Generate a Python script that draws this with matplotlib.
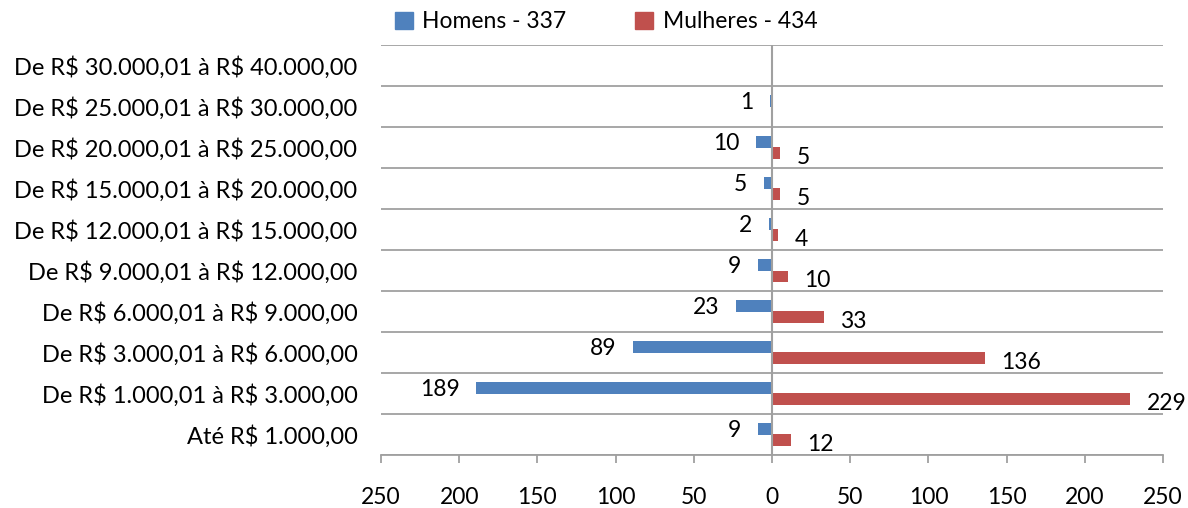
import matplotlib
matplotlib.use("Agg")
import matplotlib.pyplot as plt
from matplotlib.ticker import FuncFormatter
from matplotlib.patches import Patch
import numpy as np

plt.rcParams['font.family'] = ['Lato', 'DejaVu Sans']

categories = [
    "Até R$ 1.000,00",
    "De R$ 1.000,01 à R$ 3.000,00",
    "De R$ 3.000,01 à R$ 6.000,00",
    "De R$ 6.000,01 à R$ 9.000,00",
    "De R$ 9.000,01 à R$ 12.000,00",
    "De R$ 12.000,01 à R$ 15.000,00",
    "De R$ 15.000,01 à R$ 20.000,00",
    "De R$ 20.000,01 à R$ 25.000,00",
    "De R$ 25.000,01 à R$ 30.000,00",
    "De R$ 30.000,01 à R$ 40.000,00",
]
homens = [9, 189, 89, 23, 9, 2, 5, 10, 1, 0]
mulheres = [12, 229, 136, 33, 10, 4, 5, 5, 0, 0]
legend_labels = ["Homens - 337", "Mulheres - 434"]
xticks = [-250, -200, -150, -100, -50, 0, 50, 100, 150, 200, 250]

blue = '#4F81BD'
red = '#C0504D'
grid_c = '#A0A0A0'
fs = 16.5

fig = plt.figure(figsize=(11.88, 5.08), dpi=100)
ax = fig.add_axes([381/1188, 1-455/508, (1163-381)/1188, (455-45)/508])

y = np.arange(len(categories))
h = 0.28
ax.barh(y + h/2, [-v for v in homens], height=h, color=blue, zorder=3)
ax.barh(y - h/2, mulheres, height=h, color=red, zorder=3)

ax.set_xlim(-250, 250)
ax.set_ylim(-0.5, len(categories) - 0.5)

for i, v in enumerate(homens):
    if v:
        ax.annotate(str(v), (-v, i + h/2), xytext=(-12, -1), textcoords='offset points',
                    ha='right', va='center', fontsize=fs, color='#000000')
for i, v in enumerate(mulheres):
    if v:
        ax.annotate(str(v), (v, i - h/2), xytext=(12, -3), textcoords='offset points',
                    ha='left', va='center', fontsize=fs, color='#000000')

for b in np.arange(-0.5, len(categories), 1.0):
    ax.axhline(b, color=grid_c, lw=1.3, zorder=1)
ax.axvline(0, color=grid_c, lw=1.5, zorder=4)

for s in ['top', 'right', 'left']:
    ax.spines[s].set_visible(False)
ax.spines['bottom'].set_color(grid_c)
ax.spines['bottom'].set_linewidth(1.3)

ax.set_xticks(xticks)
ax.xaxis.set_major_formatter(FuncFormatter(lambda v, p: f"{abs(int(v))}"))
ax.tick_params(axis='x', length=6, width=1.3, color=grid_c, labelsize=fs, pad=17)
ax.set_yticks(y)
ax.set_yticklabels(categories, fontsize=17)
for t in ax.get_yticklabels():
    t.set_parse_math(False)
ax.tick_params(axis='y', length=0, pad=17)

handles = [Patch(color=blue), Patch(color=red)]
leg = fig.legend(handles, legend_labels, loc='center', bbox_to_anchor=(606/1188, 1-22/508),
                 ncol=2, frameon=False, fontsize=fs, handlelength=0.8, handleheight=0.8,
                 handletextpad=0.4, columnspacing=3.0)

fig.savefig("out.png", dpi=100)
